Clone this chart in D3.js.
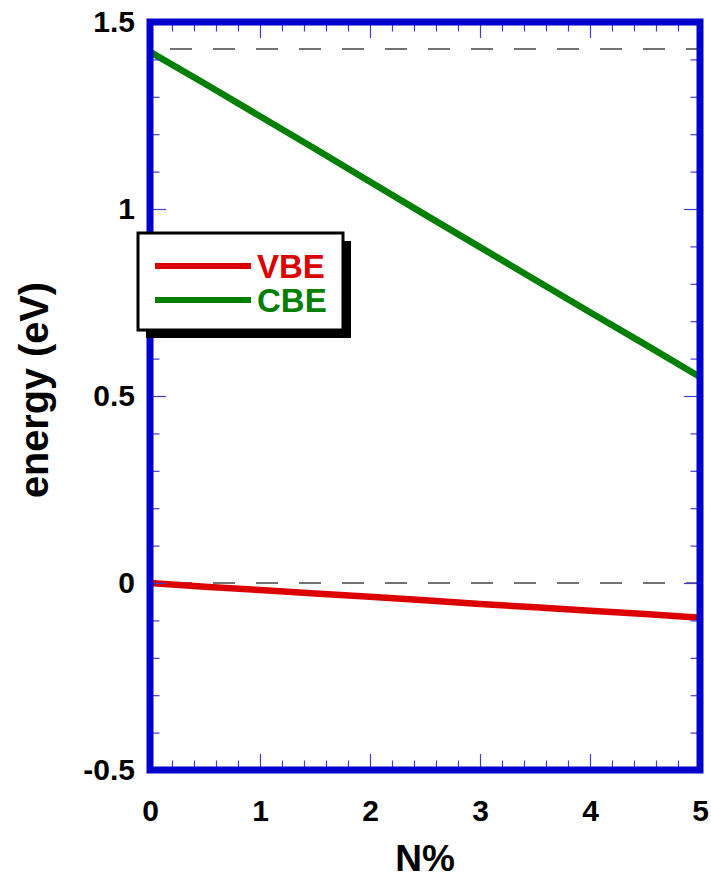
<!DOCTYPE html>
<html>
<head>
<meta charset="utf-8">
<script src="https://cdn.jsdelivr.net/npm/d3@7"></script>
<style>
  html, body { margin: 0; padding: 0; background: #ffffff; }
  svg { display: block; }
  text { font-family: Arial, "Liberation Sans", Helvetica, sans-serif; font-weight: bold; }
</style>
</head>
<body>
<div id="chart"></div>
<script>
// ---- data ----
const nPercent = [0, 0.5, 1, 1.5, 2, 2.5, 3, 3.5, 4, 4.5, 5];
const vbe = [0.000, -0.010, -0.019, -0.028, -0.037, -0.046, -0.056, -0.065, -0.074, -0.083, -0.093];
const cbe = [1.420, 1.335, 1.248, 1.161, 1.073, 0.985, 0.898, 0.811, 0.724, 0.638, 0.551];
const refLevels = [1.428, 0.0];
const seriesNames = ["VBE", "CBE"];
const xTicks = [0, 1, 2, 3, 4, 5];
const xTickLabels = ["0", "1", "2", "3", "4", "5"];
const yTicks = [-0.5, 0, 0.5, 1, 1.5];
const yTickLabels = ["-0.5", "0", "0.5", "1", "1.5"];
const xLabel = "N%";
const yLabel = "energy (eV)";

// ---- layout ----
const W = 711, H = 878;
const pLeft = 150, pRight = 700, pTop = 22, pBottom = 770;
const blue = "#0000cc", tickColor = "#3d3ddb";
const colors = { VBE: "#dd0000", CBE: "#007f00" };

const svg = d3.select("#chart").append("svg").attr("width", W).attr("height", H);

const x = d3.scaleLinear().domain([0, 5]).range([pLeft, pRight]);
const y = d3.scaleLinear().domain([-0.5, 1.5]).range([pBottom, pTop]);

// reference dashed lines
svg.selectAll("line.ref").data(refLevels).enter().append("line")
  .attr("class", "ref")
  .attr("x1", x(0)).attr("x2", x(5))
  .attr("y1", d => y(d)).attr("y2", d => y(d))
  .attr("stroke", "#444").attr("stroke-width", 1.5)
  .attr("stroke-dasharray", "22,21").attr("stroke-dashoffset", 23);

// data lines
const line = d3.line().x((d, i) => x(nPercent[i])).y(d => y(d));
const series = [{ name: "VBE", values: vbe }, { name: "CBE", values: cbe }];
svg.selectAll("path.series").data(series).enter().append("path")
  .attr("class", "series")
  .attr("d", d => line(d.values))
  .attr("fill", "none")
  .attr("stroke", d => colors[d.name])
  .attr("stroke-width", 6.5)
  .attr("stroke-linejoin", "round");

// ticks (inward)
const xMinor = d3.range(0, 5.0001, 0.2).filter(v => Math.abs(v - Math.round(v)) > 1e-6);
const yMinor = d3.range(-0.5, 1.5001, 0.1).filter(v => Math.abs(v * 2 - Math.round(v * 2)) > 1e-6);

function styleAxis(g) {
  g.select(".domain").remove();
  g.selectAll("line").attr("stroke", tickColor).attr("stroke-width", 1.2);
}
function styleText(g) {
  g.selectAll("text").attr("fill", "#000").attr("font-size", 30)
    .style("font-family", "Arial, 'Liberation Sans', sans-serif").style("font-weight", "bold");
}

// bottom
svg.append("g").attr("transform", `translate(0,${pBottom})`)
  .call(d3.axisBottom(x).tickValues(xTicks).tickSize(-16).tickPadding(30)
    .tickFormat((d, i) => xTickLabels[i]))
  .call(styleAxis).call(styleText);
svg.append("g").attr("transform", `translate(0,${pBottom})`)
  .call(d3.axisBottom(x).tickValues(xMinor).tickSize(-9.5).tickFormat(""))
  .call(styleAxis);
// top
svg.append("g").attr("transform", `translate(0,${pTop})`)
  .call(d3.axisTop(x).tickValues(xTicks).tickSize(-16).tickFormat(""))
  .call(styleAxis);
svg.append("g").attr("transform", `translate(0,${pTop})`)
  .call(d3.axisTop(x).tickValues(xMinor).tickSize(-9.5).tickFormat(""))
  .call(styleAxis);
// left
svg.append("g").attr("transform", `translate(${pLeft},0)`)
  .call(d3.axisLeft(y).tickValues(yTicks).tickSize(-16).tickPadding(15)
    .tickFormat((d, i) => yTickLabels[i]))
  .call(styleAxis).call(styleText);
svg.append("g").attr("transform", `translate(${pLeft},0)`)
  .call(d3.axisLeft(y).tickValues(yMinor).tickSize(-9.5).tickFormat(""))
  .call(styleAxis);
// right
svg.append("g").attr("transform", `translate(${pRight},0)`)
  .call(d3.axisRight(y).tickValues(yTicks).tickSize(-16).tickFormat(""))
  .call(styleAxis);
svg.append("g").attr("transform", `translate(${pRight},0)`)
  .call(d3.axisRight(y).tickValues(yMinor).tickSize(-9.5).tickFormat(""))
  .call(styleAxis);

// frame
svg.append("rect")
  .attr("x", x(0)).attr("y", y(1.5))
  .attr("width", x(5) - x(0)).attr("height", y(-0.5) - y(1.5))
  .attr("fill", "none").attr("stroke", blue).attr("stroke-width", 7);

// axis titles
svg.append("text")
  .attr("x", (x(0) + x(5)) / 2).attr("y", 871)
  .attr("text-anchor", "middle").attr("font-size", 37).attr("fill", "#000")
  .text(xLabel);
svg.append("text")
  .attr("transform", `translate(48,${(y(1.5) + y(-0.5)) / 2 - 6}) rotate(-90)`)
  .attr("text-anchor", "middle").attr("font-size", 40).attr("fill", "#000")
  .attr("textLength", 216).attr("lengthAdjust", "spacingAndGlyphs")
  .text(yLabel);

// legend
const lg = svg.append("g").attr("transform", "translate(138,233)");
lg.append("rect").attr("x", 8).attr("y", 8).attr("width", 205).attr("height", 97).attr("fill", "#000");
lg.append("rect").attr("x", 0).attr("y", 0).attr("width", 205).attr("height", 97)
  .attr("fill", "#fff").attr("stroke", "#000").attr("stroke-width", 3);
series.forEach((s, i) => {
  const cy = 33 + i * 34;
  lg.append("line").attr("x1", 17).attr("x2", 113).attr("y1", cy).attr("y2", cy)
    .attr("stroke", colors[s.name]).attr("stroke-width", 6);
  lg.append("text").attr("x", 119).attr("y", cy + 12)
    .attr("font-size", 33).attr("fill", colors[s.name]).text(seriesNames[i]);
});
</script>
</body>
</html>
